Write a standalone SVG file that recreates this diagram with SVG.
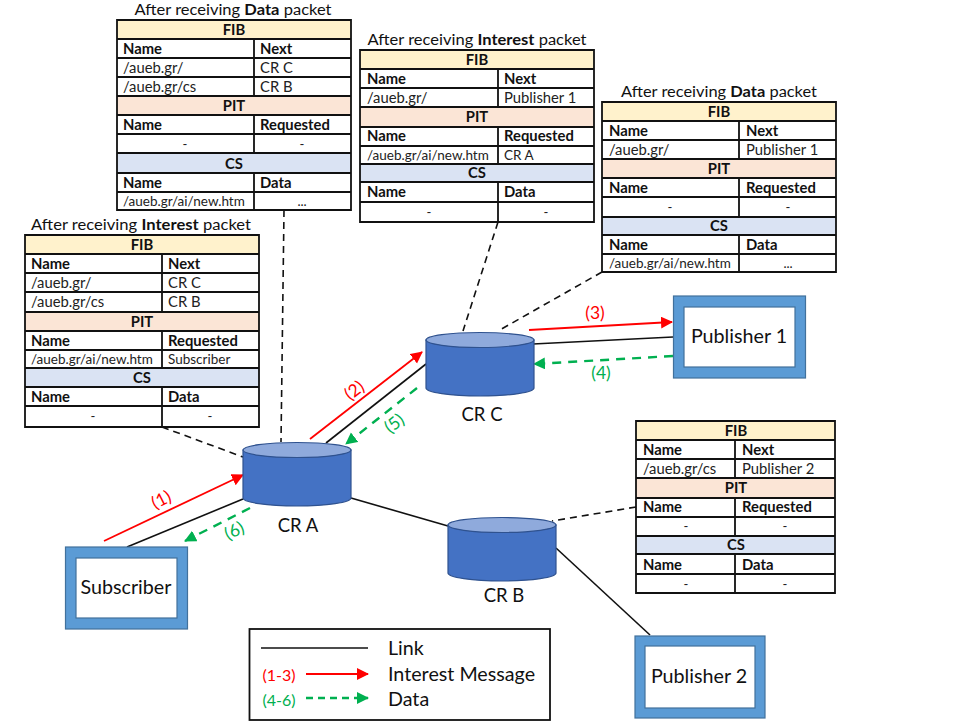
<svg xmlns="http://www.w3.org/2000/svg" width="953" height="727" viewBox="0 0 953 727">
<style>
text{font-family:"Lato","Open Sans","Liberation Sans",sans-serif;fill:#111}
.t{font-size:15.5px;text-anchor:middle}
.h{font-size:14.8px;font-weight:700;text-anchor:middle}
.b{font-size:14.8px;font-weight:700}
.c{font-size:14.8px;fill:#222}
.s{font-size:13.500px;fill:#222}
.d{font-size:13px;text-anchor:middle;fill:#222}
.n{font-size:19.700px;text-anchor:middle}
.cr{font-size:18.500px;text-anchor:middle}
.l{font-size:19.700px}
.r{font-size:17.500px;fill:#f00;text-anchor:middle}
.g{font-size:17.500px;fill:#00b050;text-anchor:middle}
.grid{fill:none;stroke:#111;stroke-width:1.8}
.fib{fill:#fff2cc}.pit{fill:#fbe5d6}.cs{fill:#dae3f3}
.box{fill:#5b9bd5;stroke:#41719c;stroke-width:1.2}
.inner{fill:#fff;stroke:#41719c;stroke-width:1.2}
.link{stroke:#111;stroke-width:1.6;fill:none}
.ref{stroke:#111;stroke-width:1.6;fill:none;stroke-dasharray:7 5}
.int{stroke:#f00;stroke-width:1.8;fill:none;marker-end:url(#ar)}
.dat{stroke:#00b050;stroke-width:2.4;fill:none;stroke-dasharray:9 7;marker-end:url(#ag)}
</style>
<defs>
<marker id="ar" markerUnits="userSpaceOnUse" markerWidth="13" markerHeight="13" refX="11" refY="6" orient="auto"><path d="M0 0L12 6L0 12Z" fill="#f00"/></marker>
<marker id="ag" markerUnits="userSpaceOnUse" markerWidth="13" markerHeight="13" refX="11" refY="6" orient="auto"><path d="M0 0L12 6L0 12Z" fill="#00b050"/></marker>
<g id="cyl"><path d="M0 8V56A54 8 0 0 0 108 56V8Z" fill="#4472c4" stroke="#2f528f" stroke-width="1.2"/><ellipse cx="54" cy="8" rx="54" ry="7.5" fill="#8faadc" stroke="#2f528f" stroke-width="1.2"/></g>
</defs>

<g id="connectors">
<path class="link" d="M127 547L243 499"/>
<path class="link" d="M326 443L426 364"/>
<path class="link" d="M351 498L448 526"/>
<path class="link" d="M533 344L673 337"/>
<path class="link" d="M556 548L650 635"/>
<path class="ref" d="M162 427L243 457"/>
<path class="ref" d="M284 210L281 442"/>
<path class="ref" d="M498 222L463 331"/>
<path class="ref" d="M602 272L498 331"/>
<path class="ref" d="M636 507L552 521"/>
<path class="int" d="M104 541L243 475"/>
<path class="int" d="M310 439L422 352"/>
<path class="int" d="M529 330L672 322"/>
<path class="dat" d="M250 508L185 541"/>
<path class="dat" d="M417 388L346 444"/>
<path class="dat" d="M673 356L534 364"/>
<text class="r" transform="translate(164 505) rotate(-27)">(1)</text>
<text class="r" transform="translate(358 395) rotate(-38)">(2)</text>
<text class="r" x="595" y="319">(3)</text>
<text class="g" x="601" y="379">(4)</text>
<text class="g" transform="translate(398 428) rotate(-38)">(5)</text>
<text class="g" transform="translate(237 536) rotate(-27)">(6)</text>
</g>

<g id="table-cr-a-data">
<text class="t" x="233" y="15" textLength="197" lengthAdjust="spacingAndGlyphs">After receiving <tspan font-weight="700">Data</tspan> packet</text>
<rect class="fib" x="117" y="20" width="234" height="19"/><rect class="pit" x="117" y="96" width="234" height="19"/><rect class="cs" x="117" y="153" width="234" height="20"/>
<path class="grid" d="M117 20H351V210H117ZM117 39H351M117 58H351M117 77H351M117 96H351M117 115H351M117 134H351M117 153H351M117 173H351M117 192H351M254 39V96M254 115V153M254 173V210"/>
<text class="h" x="234" y="35">FIB</text><text class="b" x="123" y="54">Name</text><text class="b" x="260" y="54">Next</text>
<text class="c" x="123" y="73">/aueb.gr/</text><text class="c" x="260" y="73">CR C</text>
<text class="c" x="123" y="92">/aueb.gr/cs</text><text class="c" x="260" y="92">CR B</text>
<text class="h" x="234" y="111">PIT</text><text class="b" x="123" y="130">Name</text><text class="b" x="260" y="130">Requested</text>
<text class="d" x="185" y="149">-</text><text class="d" x="302" y="149">-</text>
<text class="h" x="234" y="169">CS</text><text class="b" x="123" y="188">Name</text><text class="b" x="260" y="188">Data</text>
<text class="s" x="123" y="206">/aueb.gr/ai/new.htm</text><text class="d" x="302" y="206">...</text>
</g>

<g id="table-cr-a-interest">
<text class="t" x="141" y="230" textLength="220" lengthAdjust="spacingAndGlyphs">After receiving <tspan font-weight="700">Interest</tspan> packet</text>
<rect class="fib" x="25" y="235" width="234" height="19"/><rect class="pit" x="25" y="312" width="234" height="19"/><rect class="cs" x="25" y="368" width="234" height="19"/>
<path class="grid" d="M25 235H259V427H25ZM25 254H259M25 273H259M25 292H259M25 312H259M25 331H259M25 350H259M25 368H259M25 387H259M25 406H259M162 254V312M162 331V368M162 387V427"/>
<text class="h" x="142" y="250">FIB</text><text class="b" x="31" y="269">Name</text><text class="b" x="168" y="269">Next</text>
<text class="c" x="31" y="288">/aueb.gr/</text><text class="c" x="168" y="288">CR C</text>
<text class="c" x="31" y="307">/aueb.gr/cs</text><text class="c" x="168" y="307">CR B</text>
<text class="h" x="142" y="327">PIT</text><text class="b" x="31" y="346">Name</text><text class="b" x="168" y="346">Requested</text>
<text class="s" x="31" y="364">/aueb.gr/ai/new.htm</text><text class="s" x="168" y="364">Subscriber</text>
<text class="h" x="142" y="383">CS</text><text class="b" x="31" y="402">Name</text><text class="b" x="168" y="402">Data</text>
<text class="d" x="93" y="421">-</text><text class="d" x="210" y="421">-</text>
</g>

<g id="table-cr-c-interest">
<text class="t" x="477" y="45" textLength="219" lengthAdjust="spacingAndGlyphs">After receiving <tspan font-weight="700">Interest</tspan> packet</text>
<rect class="fib" x="360" y="50" width="234" height="19"/><rect class="pit" x="360" y="107" width="234" height="20"/><rect class="cs" x="360" y="164" width="234" height="18"/>
<path class="grid" d="M360 50H594V222H360ZM360 69H594M360 88H594M360 107H594M360 127H594M360 146H594M360 164H594M360 182H594M360 202H594M498 69V107M498 127V164M498 182V222"/>
<text class="h" x="477" y="65">FIB</text><text class="b" x="367" y="84">Name</text><text class="b" x="504" y="84">Next</text>
<text class="c" x="367" y="103">/aueb.gr/</text><text class="c" x="504" y="103">Publisher 1</text>
<text class="h" x="477" y="122">PIT</text><text class="b" x="367" y="141">Name</text><text class="b" x="504" y="141">Requested</text>
<text class="s" x="367" y="160">/aueb.gr/ai/new.htm</text><text class="s" x="504" y="160">CR A</text>
<text class="h" x="477" y="178">CS</text><text class="b" x="367" y="197">Name</text><text class="b" x="504" y="197">Data</text>
<text class="d" x="429" y="217">-</text><text class="d" x="546" y="217">-</text>
</g>

<g id="table-cr-c-data">
<text class="t" x="719" y="97" textLength="196" lengthAdjust="spacingAndGlyphs">After receiving <tspan font-weight="700">Data</tspan> packet</text>
<rect class="fib" x="602" y="102" width="234" height="19"/><rect class="pit" x="602" y="159" width="234" height="19"/><rect class="cs" x="602" y="217" width="234" height="18"/>
<path class="grid" d="M602 102H836V272H602ZM602 121H836M602 140H836M602 159H836M602 178H836M602 197H836M602 217H836M602 235H836M602 254H836M739 121V159M739 178V217M739 235V272"/>
<text class="h" x="719" y="117">FIB</text><text class="b" x="609" y="136">Name</text><text class="b" x="746" y="136">Next</text>
<text class="c" x="609" y="155">/aueb.gr/</text><text class="c" x="746" y="155">Publisher 1</text>
<text class="h" x="719" y="174">PIT</text><text class="b" x="609" y="193">Name</text><text class="b" x="746" y="193">Requested</text>
<text class="d" x="670" y="212">-</text><text class="d" x="788" y="212">-</text>
<text class="h" x="719" y="231">CS</text><text class="b" x="609" y="250">Name</text><text class="b" x="746" y="250">Data</text>
<text class="s" x="609" y="268">/aueb.gr/ai/new.htm</text><text class="d" x="788" y="268">...</text>
</g>

<g id="table-cr-b">
<rect class="fib" x="636" y="421" width="199" height="19"/><rect class="pit" x="636" y="478" width="199" height="20"/><rect class="cs" x="636" y="536" width="199" height="18"/>
<path class="grid" d="M636 421H835V593H636ZM636 440H835M636 459H835M636 478H835M636 498H835M636 517H835M636 536H835M636 554H835M636 574H835M735 440V478M735 498V536M735 554V593"/>
<text class="h" x="736" y="436">FIB</text><text class="b" x="643" y="455">Name</text><text class="b" x="742" y="455">Next</text>
<text class="c" x="643" y="474">/aueb.gr/cs</text><text class="c" x="742" y="474">Publisher 2</text>
<text class="h" x="736" y="493">PIT</text><text class="b" x="643" y="512">Name</text><text class="b" x="742" y="512">Requested</text>
<text class="d" x="686" y="531">-</text><text class="d" x="785" y="531">-</text>
<text class="h" x="736" y="550">CS</text><text class="b" x="643" y="570">Name</text><text class="b" x="742" y="570">Data</text>
<text class="d" x="686" y="589">-</text><text class="d" x="785" y="589">-</text>
</g>

<g id="cr-a"><use href="#cyl" x="243" y="442"/><text class="cr" x="298" y="532">CR A</text></g>
<g id="cr-c"><use href="#cyl" x="426" y="332"/><text class="cr" x="482" y="421">CR C</text></g>
<g id="cr-b"><use href="#cyl" x="448" y="517"/><text class="cr" x="504" y="602">CR B</text></g>

<g id="subscriber"><rect class="box" x="65.500" y="547" width="122" height="82"/><rect class="inner" x="76" y="558" width="101" height="60"/><text class="n" x="126" y="594">Subscriber</text></g>
<g id="publisher-1"><rect class="box" x="673.500" y="296" width="132" height="82"/><rect class="inner" x="684" y="307" width="111" height="60"/><text class="n" x="739" y="343">Publisher 1</text></g>
<g id="publisher-2"><rect class="box" x="635" y="636" width="130" height="82"/><rect class="inner" x="645" y="646" width="110" height="62"/><text class="n" x="699" y="683">Publisher 2</text></g>

<g id="legend">
<rect x="249.500" y="629" width="300.500" height="91" fill="#fff" stroke="#111" stroke-width="1.8"/>
<path class="link" d="M261 648H368"/>
<path class="int" d="M306 674H368"/>
<path class="dat" d="M306 698H368" style="stroke-dasharray:7 5"/>
<text class="r" style="font-size:16px" x="279" y="681">(1-3)</text>
<text class="g" style="font-size:16px" x="279" y="706">(4-6)</text>
<text class="l" x="388" y="655">Link</text>
<text class="l" x="388" y="681">Interest Message</text>
<text class="l" x="388" y="706">Data</text>
</g>
</svg>
